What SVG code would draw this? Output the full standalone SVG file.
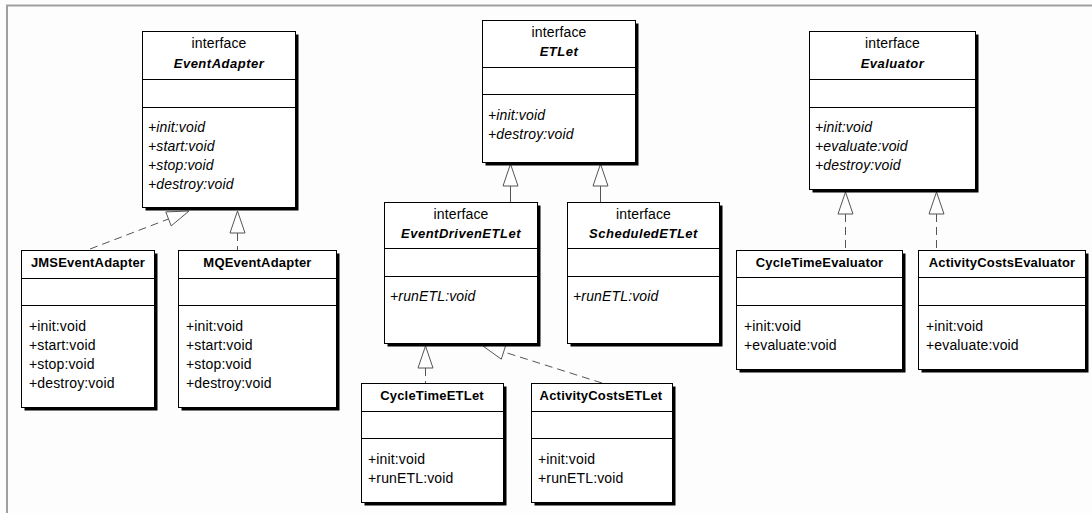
<svg xmlns="http://www.w3.org/2000/svg" width="1092" height="513" viewBox="0 0 1092 513">
<style>
.bg{fill:#fdfdfd}
.frame{stroke:#a0a0a0;stroke-width:2;fill:none}
.sh{fill:#000}
.box{fill:#fff;stroke:#000;stroke-width:1}
.div{stroke:#000;stroke-width:1}
.t{font-family:"Liberation Sans",Arial,Helvetica,sans-serif;font-size:14px;fill:#000;letter-spacing:0.15px}
.c{text-anchor:middle}
.n{font-size:13px;font-weight:bold;letter-spacing:0.2px}
.ni{font-size:13px;font-weight:bold;font-style:italic;letter-spacing:0.5px}
.i{font-style:italic}
.line{stroke:#555;stroke-width:1;fill:none}
.dash{stroke-dasharray:8 5}
.head{fill:#fff;stroke:#555;stroke-width:1}
</style>
<rect class="bg" x="0" y="0" width="1092" height="513"/>
<path class="frame" d="M7,513 V5.5 H1092"/>

<g id="connectors">
  <line class="line dash" x1="90" y1="249" x2="168.5" y2="219"/>
  <polygon class="head" points="189,211 165.8,211.9 171.2,225.9"/>
  <line class="line dash" x1="237.5" y1="233" x2="237.5" y2="250"/>
  <polygon class="head" points="237.5,211 230,233 245,233"/>
  <line class="line" x1="510.5" y1="186" x2="510.5" y2="202"/>
  <polygon class="head" points="510.5,164 503,186 518,186"/>
  <line class="line" x1="600.5" y1="186" x2="600.5" y2="202"/>
  <polygon class="head" points="600.5,164 593,186 608,186"/>
  <line class="line dash" x1="425.5" y1="368" x2="425.5" y2="383"/>
  <polygon class="head" points="425.5,346 418,368 433,368"/>
  <line class="line dash" x1="602" y1="383" x2="504" y2="352"/>
  <polygon class="head" points="483,346 506.1,344.2 501.3,359.2"/>
  <line class="line dash" x1="845.5" y1="214" x2="845.5" y2="250"/>
  <polygon class="head" points="845.5,192 838,214 853,214"/>
  <line class="line dash" x1="936.5" y1="214" x2="936.5" y2="250"/>
  <polygon class="head" points="936.5,192 929,214 944,214"/>
</g>

<g id="EventAdapter">
  <rect class="sh" x="145.5" y="34.5" width="153" height="176"/>
  <rect class="box" x="142.5" y="31.5" width="153" height="176"/>
  <line class="div" x1="142.5" y1="79.5" x2="295.5" y2="79.5"/>
  <line class="div" x1="142.5" y1="107.5" x2="295.5" y2="107.5"/>
  <text class="t c" x="219" y="48">interface</text>
  <text class="t c ni" x="219" y="68">EventAdapter</text>
  <text class="t i" x="148" y="132">+init:void</text>
  <text class="t i" x="148" y="151">+start:void</text>
  <text class="t i" x="148" y="170">+stop:void</text>
  <text class="t i" x="148" y="189">+destroy:void</text>
</g>

<g id="JMSEventAdapter">
  <rect class="sh" x="24.5" y="253.5" width="133" height="157"/>
  <rect class="box" x="21.5" y="250.5" width="133" height="157"/>
  <line class="div" x1="21.5" y1="278.5" x2="154.5" y2="278.5"/>
  <line class="div" x1="21.5" y1="305.5" x2="154.5" y2="305.5"/>
  <text class="t c n" x="88" y="267">JMSEventAdapter</text>
  <text class="t" x="29" y="331">+init:void</text>
  <text class="t" x="29" y="350">+start:void</text>
  <text class="t" x="29" y="369">+stop:void</text>
  <text class="t" x="29" y="388">+destroy:void</text>
</g>

<g id="MQEventAdapter">
  <rect class="sh" x="181.5" y="253.5" width="158" height="157"/>
  <rect class="box" x="178.5" y="250.5" width="158" height="157"/>
  <line class="div" x1="178.5" y1="278.5" x2="336.5" y2="278.5"/>
  <line class="div" x1="178.5" y1="305.5" x2="336.5" y2="305.5"/>
  <text class="t c n" x="257.5" y="267">MQEventAdapter</text>
  <text class="t" x="186" y="331">+init:void</text>
  <text class="t" x="186" y="350">+start:void</text>
  <text class="t" x="186" y="369">+stop:void</text>
  <text class="t" x="186" y="388">+destroy:void</text>
</g>

<g id="ETLet">
  <rect class="sh" x="485.5" y="23.5" width="153" height="142"/>
  <rect class="box" x="482.5" y="20.5" width="153" height="142"/>
  <line class="div" x1="482.5" y1="67.5" x2="635.5" y2="67.5"/>
  <line class="div" x1="482.5" y1="94.5" x2="635.5" y2="94.5"/>
  <text class="t c" x="559" y="37">interface</text>
  <text class="t c ni" x="559" y="56">ETLet</text>
  <text class="t i" x="488" y="120">+init:void</text>
  <text class="t i" x="488" y="139">+destroy:void</text>
</g>

<g id="EventDrivenETLet">
  <rect class="sh" x="387.5" y="205.5" width="153" height="141"/>
  <rect class="box" x="384.5" y="202.5" width="153" height="141"/>
  <line class="div" x1="384.5" y1="248.5" x2="537.5" y2="248.5"/>
  <line class="div" x1="384.5" y1="276.5" x2="537.5" y2="276.5"/>
  <text class="t c" x="461" y="219">interface</text>
  <text class="t c ni" x="461" y="238">EventDrivenETLet</text>
  <text class="t i" x="390" y="301">+runETL:void</text>
</g>

<g id="ScheduledETLet">
  <rect class="sh" x="570.5" y="205.5" width="152" height="141"/>
  <rect class="box" x="567.5" y="202.5" width="152" height="141"/>
  <line class="div" x1="567.5" y1="248.5" x2="719.5" y2="248.5"/>
  <line class="div" x1="567.5" y1="276.5" x2="719.5" y2="276.5"/>
  <text class="t c" x="643.5" y="219">interface</text>
  <text class="t c ni" x="643.5" y="238">ScheduledETLet</text>
  <text class="t i" x="573" y="301">+runETL:void</text>
</g>

<g id="CycleTimeETLet">
  <rect class="sh" x="364.5" y="386.5" width="142" height="119"/>
  <rect class="box" x="361.5" y="383.5" width="142" height="119"/>
  <line class="div" x1="361.5" y1="411.5" x2="503.5" y2="411.5"/>
  <line class="div" x1="361.5" y1="438.5" x2="503.5" y2="438.5"/>
  <text class="t c n" x="432" y="400">CycleTimeETLet</text>
  <text class="t" x="368" y="464">+init:void</text>
  <text class="t" x="368" y="483">+runETL:void</text>
</g>

<g id="ActivityCostsETLet">
  <rect class="sh" x="534.5" y="386.5" width="141" height="119"/>
  <rect class="box" x="531.5" y="383.5" width="141" height="119"/>
  <line class="div" x1="531.5" y1="411.5" x2="672.5" y2="411.5"/>
  <line class="div" x1="531.5" y1="438.5" x2="672.5" y2="438.5"/>
  <text class="t c n" x="601" y="400">ActivityCostsETLet</text>
  <text class="t" x="538" y="464">+init:void</text>
  <text class="t" x="538" y="483">+runETL:void</text>
</g>

<g id="Evaluator">
  <rect class="sh" x="812.5" y="34.5" width="166" height="158"/>
  <rect class="box" x="809.5" y="31.5" width="166" height="158"/>
  <line class="div" x1="809.5" y1="79.5" x2="975.5" y2="79.5"/>
  <line class="div" x1="809.5" y1="107.5" x2="975.5" y2="107.5"/>
  <text class="t c" x="892.5" y="48">interface</text>
  <text class="t c ni" x="892.5" y="68">Evaluator</text>
  <text class="t i" x="815" y="132">+init:void</text>
  <text class="t i" x="815" y="151">+evaluate:void</text>
  <text class="t i" x="815" y="170">+destroy:void</text>
</g>

<g id="CycleTimeEvaluator">
  <rect class="sh" x="739.5" y="253.5" width="166" height="119"/>
  <rect class="box" x="736.5" y="250.5" width="166" height="119"/>
  <line class="div" x1="736.5" y1="277.5" x2="902.5" y2="277.5"/>
  <line class="div" x1="736.5" y1="305.5" x2="902.5" y2="305.5"/>
  <text class="t c n" x="819.5" y="267">CycleTimeEvaluator</text>
  <text class="t" x="744" y="331">+init:void</text>
  <text class="t" x="744" y="350">+evaluate:void</text>
</g>

<g id="ActivityCostsEvaluator">
  <rect class="sh" x="921.5" y="253.5" width="167" height="119"/>
  <rect class="box" x="918.5" y="250.5" width="167" height="119"/>
  <line class="div" x1="918.5" y1="277.5" x2="1085.5" y2="277.5"/>
  <line class="div" x1="918.5" y1="305.5" x2="1085.5" y2="305.5"/>
  <text class="t c n" x="1002" y="267">ActivityCostsEvaluator</text>
  <text class="t" x="926" y="331">+init:void</text>
  <text class="t" x="926" y="350">+evaluate:void</text>
</g>
</svg>
